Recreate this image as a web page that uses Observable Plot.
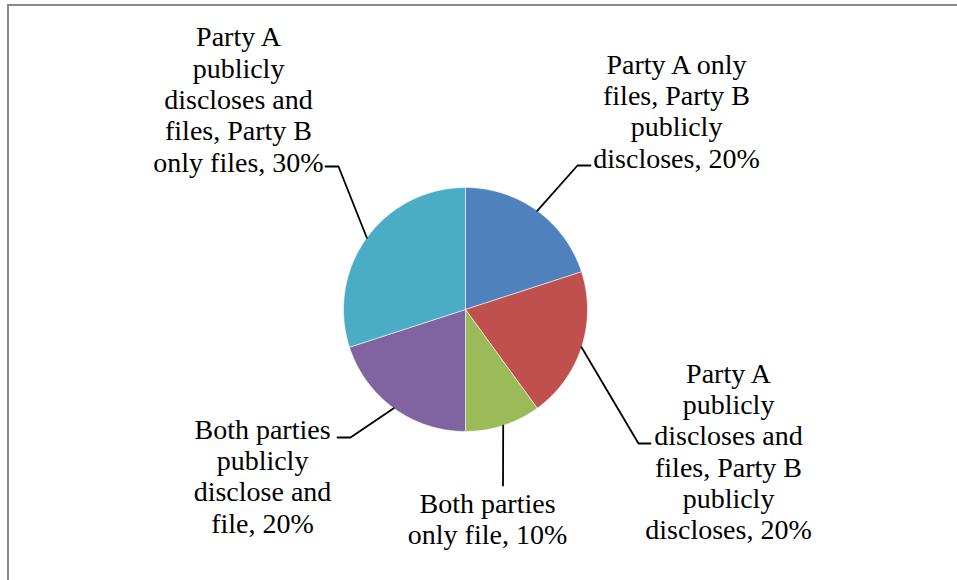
<!DOCTYPE html>
<html>
<head>
<meta charset="utf-8">
<script src="https://cdn.jsdelivr.net/npm/d3@7"></script>
<script src="https://cdn.jsdelivr.net/npm/@observablehq/plot@0.6"></script>
<style>
  html, body { margin: 0; padding: 0; background: #fff; }
  #wrap { position: relative; width: 957px; height: 580px; overflow: hidden; }
  #wrap svg { display: block; position: absolute; left: 0; top: 0; }
  #frame { position: absolute; left: 7px; top: 4px; right: -10px; bottom: -10px;
           border-top: 2.5px solid #888; border-left: 2.5px solid #888; pointer-events: none; }
</style>
</head>
<body>
<div id="wrap"><div id="frame"></div></div>
<script>
// ---- data ----
const categories = [
  "Party A only files, Party B publicly discloses",
  "Party A publicly discloses and files, Party B publicly discloses",
  "Both parties only file",
  "Both parties publicly disclose and file",
  "Party A publicly discloses and files, Party B only files"
];
const shares = [20, 20, 10, 20, 30];
const colors = ["#4F81BD", "#C0504D", "#9BBB59", "#8064A2", "#4BACC6"];
const wrappedLabels = [
  ["Party A only", "files, Party B", "publicly", "discloses"],
  ["Party A", "publicly", "discloses and", "files, Party B", "publicly", "discloses"],
  ["Both parties", "only file"],
  ["Both parties", "publicly", "disclose and", "file"],
  ["Party A", "publicly", "discloses and", "files, Party B", "only files"]
];

// ---- layout (pixel offsets from pie centre, y downward) ----
const W = 957, H = 580;
const CX = 465, CY = 309, R = 122;
const labelPos = [[211, -199], [263, 141.5], [22, 209], [-203, 166], [-227, -210.5]];
const elbowPos = [[112, -144], [173, 134], [37.5, 176], [-115, 128], [-127, -143]];
const tailPos  = [[125, -144], [185, 134], [37.5, 176], [-128, 128], [-140, -143]];

const arcs = d3.pie().sort(null).value(d => d)(shares);

// slice outlines
const slicePts = [];
arcs.forEach((a, i) => {
  slicePts.push({k: i, x: 0, y: 0, c: colors[i]});
  const n = Math.max(8, Math.ceil((a.endAngle - a.startAngle) / (Math.PI / 180)));
  for (let j = 0; j <= n; j++) {
    const t = a.startAngle + (a.endAngle - a.startAngle) * j / n;
    slicePts.push({k: i, x: R * Math.sin(t), y: -R * Math.cos(t), c: colors[i]});
  }
  slicePts.push({k: i, x: 0, y: 0, c: colors[i]});
});

// leader lines
const leaderPts = [];
arcs.forEach((a, i) => {
  const m = (a.startAngle + a.endAngle) / 2;
  leaderPts.push({k: i, x: R * Math.sin(m), y: -R * Math.cos(m)});
  leaderPts.push({k: i, x: elbowPos[i][0], y: elbowPos[i][1]});
  leaderPts.push({k: i, x: tailPos[i][0], y: tailPos[i][1]});
});

// labels
const labels = categories.map((c, i) => {
  const lines = wrappedLabels[i].slice();
  lines[lines.length - 1] = lines[lines.length - 1] + ", " + shares[i] + "%";
  return {x: labelPos[i][0], y: labelPos[i][1], text: lines.join("\n"), name: c};
});

const chart = Plot.plot({
  width: W,
  height: H,
  margin: 0,
  x: {domain: [-CX, W - CX], range: [0, W], axis: null},
  y: {domain: [-CY, H - CY], range: [0, H], axis: null},
  color: {type: "identity"},
  marks: [
    Plot.line(slicePts, {x: "x", y: "y", z: "k", fill: "c", stroke: "#ffffff", strokeWidth: 0.7, strokeOpacity: 0.8, curve: "linear"}),
    Plot.line(leaderPts, {x: "x", y: "y", z: "k", stroke: "#000", strokeWidth: 1.8, curve: "linear"}),
    Plot.text(labels, {x: "x", y: "y", text: "text", fontSize: 28, lineHeight: 1.12,
      textAnchor: "middle", lineAnchor: "middle", fill: "#000",
      fontFamily: "'Liberation Serif', serif"})
  ]
});
document.getElementById("wrap").insertBefore(chart, document.getElementById("frame"));
</script>
</body>
</html>
